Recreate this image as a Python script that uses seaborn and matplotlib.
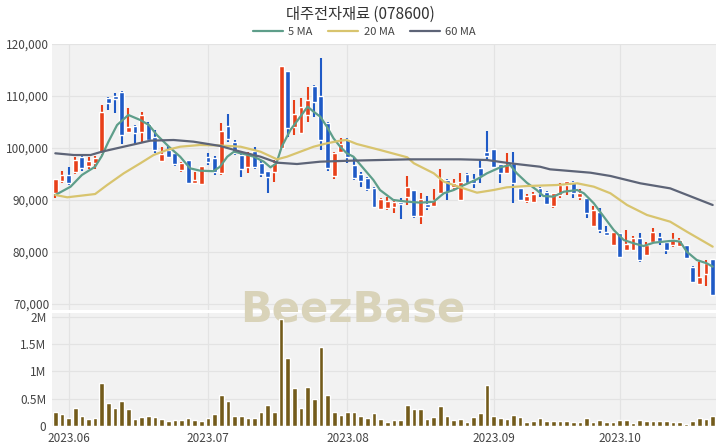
import matplotlib
matplotlib.use("Agg")
import matplotlib.pyplot as plt
import numpy as np
import pandas as pd
import seaborn as sns

# 일봉 데이터 (2023-05-30 ~ 2023-10-24, 거래일 기준)
opens = [91300, 93650, 94800, 95440, 98200, 96600, 97060, 98980, 109670, 110000,
         110830, 103140, 104230, 103140, 104600, 102060, 97500, 99620, 98980, 95770,
         97690, 93330, 93080, 98210, 98020, 95130, 104230, 101210, 98650, 96410,
         99490, 97180, 95640, 95440, 99940, 114870, 104100, 102940, 106350, 111920,
         110000, 104750, 94620, 99300, 101670, 96730, 95000, 94170, 92240, 88210,
         88400, 88720, 89680, 90640, 91920, 86920, 89230, 88850, 91280, 93850,
         92440, 90000, 95000, 93980, 96090, 99290, 99750, 96920, 95130, 97060,
         92240, 89870, 89680, 92240, 91600, 88850, 90960, 92880, 93530, 90640,
         90320, 85000, 87760, 83910, 81350, 83720, 80380, 80380, 82630, 79420,
         82000, 82950, 81990, 81350, 81200, 81350, 77180, 73850, 75770, 78600]
highs = [94100, 95640, 96400, 98200, 98460, 98200, 98460, 108270, 109870, 110640,
         111020, 107630, 104420, 106980, 105000, 103460, 100250, 100380, 99290, 97380,
         97690, 95440, 96540, 99100, 98460, 104870, 106540, 101600, 99290, 99290,
         100250, 97690, 95640, 97690, 115770, 114870, 109230, 109550, 111790, 112170,
         117250, 105060, 99290, 101860, 101860, 98330, 95440, 94480, 92500, 90320,
         90500, 90100, 90320, 94620, 91920, 91410, 90770, 92050, 95900, 94100,
         94100, 95250, 95200, 95000, 97690, 103270, 99900, 96920, 99100, 99290,
         92400, 91100, 91600, 92560, 91790, 91400, 93270, 93720, 93720, 92050,
         90320, 88850, 88400, 85000, 83910, 83720, 84230, 83000, 83720, 82000,
         84550, 83720, 81990, 83720, 82600, 81350, 77300, 78140, 78460, 78600]
lows = [90400, 93270, 92900, 95000, 95640, 96000, 96000, 98650, 107300, 106790,
        100770, 102940, 100770, 101020, 101200, 98980, 97500, 98010, 96540, 95440,
        93000, 93330, 93080, 96730, 94800, 94800, 101210, 98650, 94480, 95250,
        95900, 94420, 91410, 93530, 99800, 102180, 102500, 102880, 105060, 106030,
        99620, 95640, 93980, 99100, 97060, 93850, 92560, 91800, 88400, 88210,
        88000, 87560, 86280, 89040, 86600, 85380, 88080, 88720, 91280, 90000,
        92000, 90000, 93330, 92300, 93330, 97830, 96410, 93330, 95130, 89480,
        90000, 89480, 89350, 90640, 89040, 88500, 90300, 90960, 90330, 89990,
        86470, 85000, 83580, 83270, 81350, 78790, 80380, 80380, 78100, 79420,
        81800, 81350, 79620, 81000, 81000, 78790, 73980, 73660, 73400, 71530]
closes = [94000, 94800, 93200, 97700, 96100, 97500, 98000, 106980, 108600, 109360,
          102500, 104100, 102940, 106350, 101540, 99620, 98850, 98210, 96920, 97060,
          93330, 93850, 96540, 97300, 95300, 103330, 101670, 98980, 95900, 98850,
          96280, 95000, 94480, 97180, 115770, 103780, 106540, 107950, 109230, 108910,
          101540, 96100, 98980, 100770, 98210, 94170, 93650, 92050, 88590, 90130,
          89900, 89680, 89230, 92560, 86920, 90130, 88590, 90000, 94170, 91600,
          93330, 93530, 93330, 93200, 94620, 98460, 96410, 95130, 96730, 93200,
          90000, 90770, 91200, 91280, 89230, 91280, 92880, 93720, 91410, 91410,
          87440, 88080, 84230, 83270, 83910, 79100, 81540, 82630, 78460, 81350,
          83910, 82180, 80380, 82440, 82300, 78790, 74300, 75250, 77950, 71730]
# 거래량 (백만주)
volumes = [0.262, 0.214, 0.153, 0.336, 0.183, 0.128, 0.141, 0.783, 0.428, 0.324,
           0.465, 0.306, 0.128, 0.171, 0.189, 0.171, 0.134, 0.092, 0.110, 0.110,
           0.153, 0.110, 0.092, 0.141, 0.225, 0.570, 0.462, 0.183, 0.183, 0.150,
           0.155, 0.250, 0.392, 0.250, 1.960, 1.240, 0.690, 0.336, 0.710, 0.490,
           1.444, 0.570, 0.262, 0.208, 0.262, 0.250, 0.190, 0.140, 0.243, 0.128,
           0.067, 0.110, 0.110, 0.385, 0.306, 0.306, 0.120, 0.160, 0.367, 0.180,
           0.110, 0.120, 0.080, 0.160, 0.245, 0.752, 0.190, 0.140, 0.130, 0.200,
           0.160, 0.080, 0.095, 0.140, 0.098, 0.098, 0.098, 0.098, 0.080, 0.080,
           0.140, 0.080, 0.110, 0.067, 0.067, 0.110, 0.110, 0.050, 0.110, 0.092,
           0.092, 0.092, 0.092, 0.067, 0.067, 0.037, 0.098, 0.153, 0.122, 0.183]

# 이동평균선
ma5_x = [0, 2.3, 4, 6, 7, 8, 9.3, 11, 12.8, 14.1, 15.3, 17.1, 18.8, 20.3, 21.8, 23.8,
         24.8, 25.9, 26.9, 28.4, 29.9, 31.4, 32.4, 33.3, 34.1, 35.4, 36.9, 38, 38.9,
         39.9, 40.9, 41.9, 42.9, 43.9, 44.9, 46.4, 47.9, 48.9, 50.9, 53, 55, 57, 58.5,
         60, 61, 63.5, 65, 67, 68.5, 69.5, 71, 72.5, 73.5, 75, 76.6, 78.6, 79.6, 81.1,
         82.6, 84.1, 85.6, 87.1, 88.6, 90.1, 91.6, 93.1, 94.1, 95.1, 96.6, 98.1, 99]
ma5_y = [90960, 92560, 94810, 96410, 98460, 101210, 104420, 106350, 105380, 104420,
         102500, 100250, 98330, 96090, 95640, 95540, 96400, 98330, 99290, 98850,
         98330, 97370, 96280, 97060, 100250, 103460, 106030, 107950, 106980, 106030,
         104100, 101860, 100250, 98980, 98330, 96090, 93850, 91920, 90000, 89680,
         89490, 89680, 91290, 91920, 92560, 93980, 95130, 96280, 96730, 95130,
         93330, 91920, 90770, 90640, 91600, 91920, 91290, 89360, 86790, 84230,
         82310, 81670, 81150, 81790, 81990, 82180, 81990, 80060, 78460, 77830, 77180]
ma20_x = [0, 1.8, 6, 7.8, 10.3, 12.8, 14.8, 16.8, 18.8, 21.8, 24.8, 27.9, 30.9, 33.4,
          34.9, 36.9, 38.9, 40.9, 42.9, 43.9, 45.4, 48.9, 53, 54, 57, 58.5, 61, 63.5,
          66, 68, 71, 75.5, 78.6, 81.1, 83.6, 86.1, 89.1, 92.6, 95.1, 99]
ma20_y = [90960, 90520, 91150, 92880, 95130, 97060, 98650, 99620, 100250, 100580,
          100480, 100250, 99290, 97820, 98330, 99290, 100250, 100900, 101410, 101540,
          100770, 99620, 98210, 97060, 95130, 93530, 92440, 91410, 91920, 92440,
          92690, 92880, 93210, 92560, 91290, 89040, 87120, 85830, 83910, 81030]
ma60_x = [0, 2.8, 5.3, 7, 10.3, 14.3, 17.8, 20.8, 24.8, 27.9, 30.9, 33.4, 36.4, 39.9,
          44.4, 48.9, 53.5, 61, 65, 68.5, 73, 74.5, 80.6, 83.6, 88.1, 92.6, 99]
ma60_y = [98980, 98650, 98650, 99290, 100250, 101410, 101540, 101220, 100400, 99290,
          98330, 97180, 96920, 97370, 97560, 97690, 97820, 97820, 97690, 97060,
          96400, 95900, 95250, 94620, 93210, 92240, 89040]

tick_pos = [2, 23, 44, 66, 85]
tick_labels = ["2023.06", "2023.07", "2023.08", "2023.09", "2023.10"]

UP = "#e8401a"
DOWN = "#1f5ac6"
VOL = "#735b1b"
BG = "#f2f2f2"
GRID = "#e3e3e3"

sns.set_style("whitegrid", {"axes.facecolor": BG, "grid.color": GRID})
plt.rcParams["font.family"] = ["Noto Sans CJK KR", "DejaVu Sans"]

df = pd.DataFrame({"o": opens, "h": highs, "l": lows, "c": closes, "v": volumes})
df["i"] = np.arange(len(df))
colors = np.where(df["c"] >= df["o"], UP, DOWN)

fig = plt.figure(figsize=(7.2, 4.48), dpi=100)
ax = fig.add_axes([52/720, 138/448, 664/720, 266/448])
axv = fig.add_axes([52/720, 22/448, 664/720, 113/448])

# 캔들
ax.vlines(df["i"], df["l"], df["h"], colors=colors, lw=1.5, zorder=2)
body = np.maximum((df["c"] - df["o"]).abs(), 180)
ax.bar(df["i"], body, bottom=np.minimum(df["o"], df["c"]), width=0.74,
       color=colors, zorder=3)

sns.lineplot(x=ma5_x, y=ma5_y, ax=ax, color="#5e9e8a", lw=1.6, label="5 MA", zorder=4)
sns.lineplot(x=ma20_x, y=ma20_y, ax=ax, color="#d8c46e", lw=1.6, label="20 MA", zorder=4)
sns.lineplot(x=ma60_x, y=ma60_y, ax=ax, color="#5d6477", lw=1.6, label="60 MA", zorder=4)

handles, labels = ax.get_legend_handles_labels()
ax.get_legend().remove()
fig.legend(handles, labels, loc="center", bbox_to_anchor=(0.506, 1 - 32/448), ncol=3,
           frameon=False, fontsize=8, handlelength=2.7, columnspacing=1.4,
           handletextpad=0.5, labelcolor="#444444")

ax.set_xlim(-0.5, 99.5)
ax.set_ylim(68846, 120000)
yt = [70000, 80000, 90000, 100000, 110000, 120000]
ax.set_yticks(yt)
ax.set_yticklabels([f"{v:,}" for v in yt])
ax.set_xticks(tick_pos)
ax.set_xticklabels([])

# 거래량
sns.barplot(x=df["i"], y=df["v"] * 1e6, ax=axv, color=VOL, saturation=1,
            width=0.7, errorbar=None, zorder=3)
axv.set_xlim(-0.5, 99.5)
axv.set_ylim(0, 2.073e6)
axv.set_yticks([0, 0.5e6, 1e6, 1.5e6, 2e6])
axv.set_yticklabels(["0", "0.5M", "1M", "1.5M", "2M"])
axv.set_xticks(tick_pos)
axv.set_xticklabels(tick_labels)
axv.set_xlabel("")
axv.set_ylabel("")

for a in (ax, axv):
    for s in a.spines.values():
        s.set_visible(False)
    a.tick_params(length=0, labelsize=8.5, labelcolor="#444444", pad=2)
    a.grid(True, color=GRID, lw=0.9)
axv.tick_params(axis="x", pad=4)
axv.tick_params(axis="y", pad=4)

axv.text(353/720, 1 - 309/448, "BeezBase", transform=fig.transFigure, ha="center",
         va="center", fontsize=30, fontweight="bold", color="#d9d3b9",
         family="DejaVu Sans", zorder=1, clip_on=False)

fig.text(0.5, 1 - 14/448, "대주전자재료 (078600)", ha="center", va="center",
         fontsize=11, color="#333333")

fig.savefig("out.png", dpi=100)
